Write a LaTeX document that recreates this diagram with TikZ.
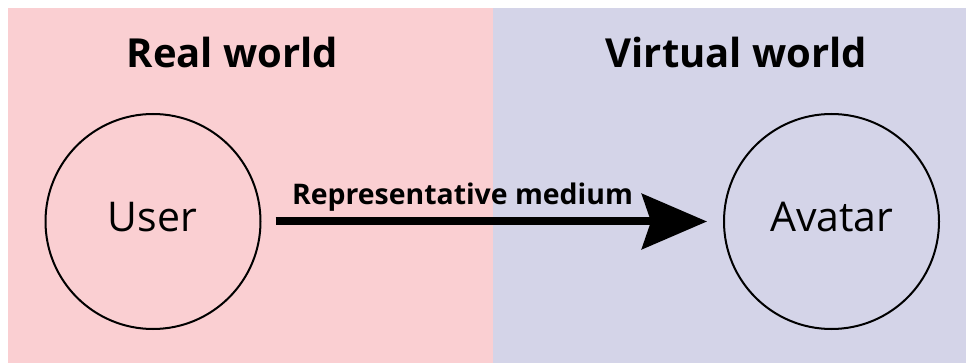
\documentclass[tikz,border=0pt]{standalone}
\usepackage{fontspec}
\setmainfont{Open Sans}
\usetikzlibrary{arrows.meta}
\definecolor{realbg}{RGB}{250,207,210}
\definecolor{virtbg}{RGB}{212,212,232}
\tikzset{
  world/.style={font=\fontsize{40}{42}\selectfont\bfseries, anchor=base, inner sep=0pt},
  entity/.style={circle, draw=black, line width=2pt, minimum size=215pt, inner sep=0pt, outer sep=0pt},
  entitytxt/.style={font=\fontsize{41}{44}\selectfont, anchor=base, inner sep=0pt},
  medium/.style={font=\fontsize{28.4}{30}\selectfont\bfseries, anchor=base, inner sep=0pt},
  flow/.style={line width=8pt, -{Stealth[length=65pt, width=55pt, inset=9pt]}, shorten <=15pt, shorten >=17pt}
}
\begin{document}
\begin{tikzpicture}[x=1pt, y=-1pt]
\useasboundingbox (0,0) rectangle (966,363);
\fill[realbg] (8,8) rectangle (493,363);
\fill[virtbg] (493,8) rectangle (966,363);
\node[world] (realt) at (232.5,68) {Real world};
\node[world] (virtt) at (736.5,68) {Virtual world};
\node[entity] (user) at (153,221.5) {};
\node[entity] (avatar) at (831.5,221.5) {};
\node[entitytxt] (usert) at (152.5,232) {User};
\node[entitytxt] (avatart) at (831.7,232) {Avatar};
\draw[flow] (user) -- (avatar);
\node[medium] (med) at (462.5,205) {Representative medium};
\end{tikzpicture}
\end{document}
